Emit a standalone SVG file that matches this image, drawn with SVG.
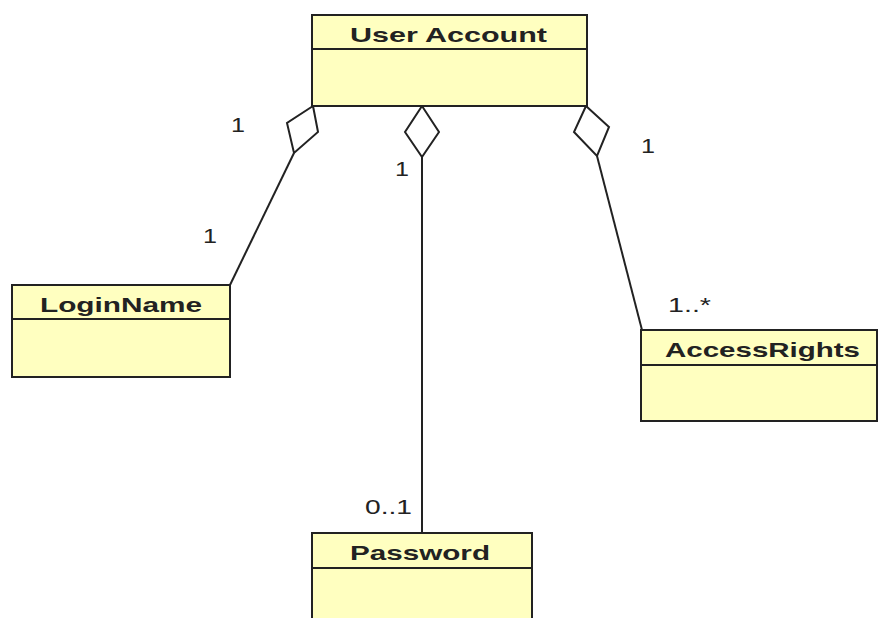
<svg xmlns="http://www.w3.org/2000/svg" width="879" height="618" viewBox="0 0 879 618">
<style>
.box{fill:#ffffc0;stroke:#222;stroke-width:2}
.sep{stroke:#222;stroke-width:2}
.name{font-family:"Liberation Sans",Arial,sans-serif;font-weight:bold;font-size:21px;fill:#222}
.lbl{font-family:"Liberation Sans",Arial,sans-serif;font-size:20px;fill:#222}
.edge{fill:none;stroke:#222;stroke-width:2}
.dia{fill:#fff;stroke:#222;stroke-width:2;stroke-linejoin:miter}
</style>
<rect width="879" height="618" fill="#fff"/>
<g id="connectors">
<path class="edge" d="M294,153 L230,285"/>
<polygon class="dia" points="313,106 287,123 294,153 318,132"/>
<path class="edge" d="M422,157 L422,533"/>
<polygon class="dia" points="422,106 405,132 422,157 439,132"/>
<path class="edge" d="M597,156 L642,330"/>
<polygon class="dia" points="586,106 609,127 597,156 574,132"/>
<text class="lbl" x="231" y="132" textLength="14" lengthAdjust="spacingAndGlyphs">1</text>
<text class="lbl" x="203" y="243" textLength="14" lengthAdjust="spacingAndGlyphs">1</text>
<text class="lbl" x="395" y="176" textLength="14" lengthAdjust="spacingAndGlyphs">1</text>
<text class="lbl" x="641" y="153" textLength="14" lengthAdjust="spacingAndGlyphs">1</text>
<text class="lbl" x="668" y="312" textLength="43" lengthAdjust="spacingAndGlyphs">1..*</text>
<text class="lbl" x="365" y="514" textLength="47" lengthAdjust="spacingAndGlyphs">0..1</text>
</g>
<g id="user-account">
<rect class="box" x="312" y="15" width="275" height="91"/>
<line class="sep" x1="312" y1="49" x2="587" y2="49"/>
<text class="name" x="350" y="42" textLength="197" lengthAdjust="spacingAndGlyphs">User Account</text>
</g>
<g id="login-name">
<rect class="box" x="12" y="285" width="218" height="92"/>
<line class="sep" x1="12" y1="319" x2="230" y2="319"/>
<text class="name" x="40" y="312" textLength="162" lengthAdjust="spacingAndGlyphs">LoginName</text>
</g>
<g id="access-rights">
<rect class="box" x="641" y="330" width="236" height="91"/>
<line class="sep" x1="641" y1="365" x2="877" y2="365"/>
<text class="name" x="665" y="357" textLength="195" lengthAdjust="spacingAndGlyphs">AccessRights</text>
</g>
<g id="password">
<rect class="box" x="312" y="533" width="220" height="95"/>
<line class="sep" x1="312" y1="568" x2="532" y2="568"/>
<text class="name" x="350" y="560" textLength="140" lengthAdjust="spacingAndGlyphs">Password</text>
</g>
</svg>
